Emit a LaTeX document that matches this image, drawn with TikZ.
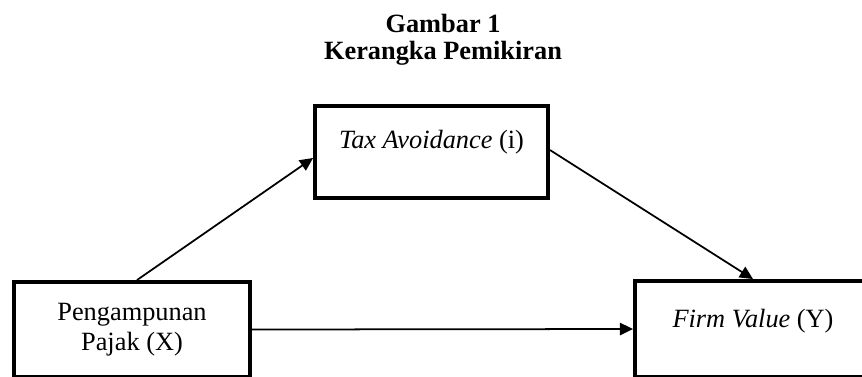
\documentclass[tikz,border=0pt]{standalone}
\usepackage{fontspec}
\setmainfont{Liberation Serif}
\usetikzlibrary{arrows.meta}
\begin{document}
\begin{tikzpicture}[x=0.016cm,y=-0.016cm,
    kotak/.style={draw=black,line width=1.8pt,rectangle,inner ysep=0pt,font=\fontsize{12pt}{13.7pt}\selectfont},
    panah/.style={line width=0.8pt,-{Triangle[length=6pt,width=5.6pt]}}]
    \useasboundingbox (0,0) rectangle (862,376);
    \node[anchor=north,inner sep=0pt,align=center,font=\fontsize{12pt}{12.3pt}\selectfont\bfseries] (judul) at (443,13.5) {Gambar 1\\Kerangka Pemikiran};
    \node[kotak,minimum width=3.728cm,text height=0.672cm,text depth=0.8cm] (tax) at (431.5,152) {\textit{Tax Avoidance} (i)};
    \node[kotak,minimum width=3.776cm,minimum height=1.52cm,align=center] (pajak) at (132,329.5) {Pengampunan\\Pajak (X)};
    \node[kotak,minimum width=3.776cm,text height=0.736cm,text depth=0.8cm] (firm) at (753,329) {\textit{Firm Value} (Y)};
    \draw[panah] ([xshift=0.08cm]pajak.north) -- ([yshift=-0.096cm]tax.west);
    \draw[panah] ([yshift=0.032cm]tax.east) -- (firm.north);
    \draw[panah] (pajak.east) -- (firm.west);
\end{tikzpicture}
\end{document}
